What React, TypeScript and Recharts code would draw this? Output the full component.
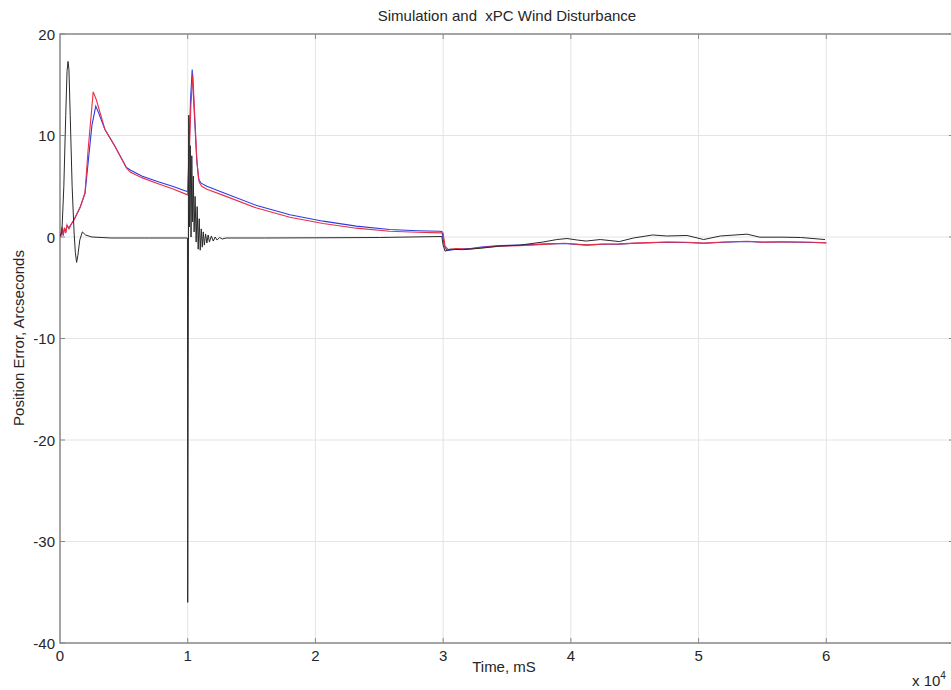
import React from 'react';
import { LineChart, Line, XAxis, YAxis, CartesianGrid, ReferenceArea } from 'recharts';

// time axis in units of 1e4 mS
const xTicks = [0, 1, 2, 3, 4, 5, 6];
const yTicks = [-40, -30, -20, -10, 0, 10, 20];

// simulation (blue)
const blueT = [0, 0.005, 0.015, 0.025, 0.035, 0.045, 0.055, 0.07, 0.09, 0.11, 0.157, 0.196, 0.22, 0.25, 0.28, 0.3, 0.352, 0.43, 0.52, 0.55, 0.64, 0.757, 0.88, 0.99, 1.0, 1.01, 1.022, 1.035, 1.05, 1.07, 1.085, 1.105, 1.15, 1.28, 1.54, 1.8, 2.06, 2.32, 2.58, 2.8, 2.97, 2.99, 3.01, 3.03, 3.1, 3.2, 3.3, 3.44, 3.6, 3.82, 3.95, 4.12, 4.25, 4.38, 4.5, 4.62, 4.75, 4.9, 5.04, 5.2, 5.38, 5.5, 5.65, 5.8, 5.9, 6.0];
const blueV = [0, 0.1, 0.8, 0.2, 0.9, 0.5, 1.1, 0.9, 1.3, 1.7, 2.9, 4.3, 7.3, 11.0, 12.9, 12.3, 10.6, 8.95, 6.85, 6.6, 6.0, 5.5, 5.0, 4.5, 4.45, 8.5, 13.5, 16.5, 12.6, 7.7, 5.7, 5.3, 5.0, 4.35, 3.1, 2.2, 1.56, 1.07, 0.74, 0.62, 0.57, 0.55, -0.9, -1.35, -1.2, -1.15, -1.0, -0.85, -0.8, -0.68, -0.64, -0.8, -0.72, -0.7, -0.62, -0.57, -0.52, -0.54, -0.62, -0.52, -0.44, -0.52, -0.5, -0.52, -0.54, -0.59];

// simulation (red)
const redT = [0, 0.005, 0.015, 0.025, 0.035, 0.045, 0.055, 0.07, 0.09, 0.11, 0.157, 0.196, 0.22, 0.26, 0.285, 0.352, 0.43, 0.52, 0.55, 0.64, 0.757, 0.88, 0.99, 1.0, 1.012, 1.025, 1.04, 1.055, 1.073, 1.09, 1.11, 1.15, 1.28, 1.54, 1.8, 2.06, 2.32, 2.58, 2.8, 2.98, 3.0, 3.015, 3.04, 3.1, 3.2, 3.3, 3.44, 3.6, 3.82, 3.95, 4.12, 4.25, 4.38, 4.5, 4.62, 4.75, 4.9, 5.04, 5.2, 5.38, 5.5, 5.65, 5.8, 5.9, 6.0];
const redV = [0, 0, 1.0, 0.1, 0.9, 0.4, 1.2, 0.8, 1.3, 1.7, 2.9, 4.4, 8.6, 14.3, 13.5, 10.6, 8.95, 6.8, 6.4, 5.85, 5.3, 4.75, 4.2, 4.15, 8, 13, 16.0, 12, 7.3, 5.4, 5.0, 4.7, 4.1, 2.85, 1.95, 1.33, 0.87, 0.57, 0.47, 0.41, 0.4, -0.9, -1.25, -1.15, -1.2, -1.05, -0.9, -0.85, -0.7, -0.62, -0.78, -0.7, -0.68, -0.6, -0.55, -0.5, -0.52, -0.6, -0.5, -0.42, -0.5, -0.48, -0.5, -0.52, -0.57];

// xPC (black)
const blackT = [0, 0.015, 0.03, 0.045, 0.055, 0.063, 0.07, 0.08, 0.095, 0.11, 0.12, 0.13, 0.14, 0.155, 0.175, 0.2, 0.25, 0.4, 0.7, 0.998, 1.0, 1.008, 1.014, 1.02, 1.026, 1.032, 1.038, 1.044, 1.05, 1.058, 1.066, 1.074, 1.082, 1.09, 1.098, 1.106, 1.114, 1.122, 1.13, 1.14, 1.15, 1.16, 1.17, 1.185, 1.2, 1.215, 1.23, 1.25, 1.27, 1.3, 1.6, 2.0, 2.5, 2.99, 3.0, 3.015, 3.05, 3.15, 3.3, 3.44, 3.6, 3.78, 3.89, 3.97, 4.05, 4.12, 4.23, 4.38, 4.49, 4.64, 4.75, 4.91, 5.04, 5.17, 5.38, 5.48, 5.66, 5.8, 5.99];
const blackV = [0, 0.5, 5, 12, 16.3, 17.3, 16.5, 12, 5, 0.5, -1.5, -2.5, -1.8, -0.3, 0.5, 0.2, 0, -0.1, -0.1, -0.1, -36, 12, 1, 9, 0, 8, 1.5, 6, 0.5, 4, -0.5, 3, -1.2, 1.8, -1.3, 0.8, -1.0, 0.5, -0.8, 0.3, -0.6, 0.2, -0.5, 0.1, -0.4, 0, -0.3, -0.05, -0.2, -0.1, -0.1, -0.08, -0.05, 0.05, -0.8, -1.4, -1.2, -1.25, -1.1, -0.9, -0.8, -0.5, -0.25, -0.15, -0.3, -0.4, -0.25, -0.45, -0.1, 0.2, 0.1, 0.15, -0.25, 0.1, 0.28, -0.02, -0.02, -0.05, -0.25];

const toRows = (t: number[], v: number[]) => t.map((x, i) => ({ t: x, v: v[i] }));
const blueData = toRows(blueT, blueV);
const redData = toRows(redT, redV);
const blackData = toRows(blackT, blackV);

const W = 960;
const H = 690;
const M = { top: 34, right: 6, bottom: 17, left: 0 };
const Y_AXIS_W = 60;
const X_AXIS_H = 30;
const PLOT_LEFT = M.left + Y_AXIS_W;
const PLOT_RIGHT = W - M.right;
const PLOT_TOP = M.top;
const PLOT_BOTTOM = H - M.bottom - X_AXIS_H;

const FONT = '"Liberation Sans", Arial, sans-serif';
const TXT = '#262626';
const FRAME = '#8a8a8a';

const XTick = (props: any) => {
  const { x, payload } = props;
  return (
    <g>
      <text x={x} y={PLOT_BOTTOM + 18} textAnchor="middle" fontSize={15} fontFamily={FONT} fill={TXT}>
        {payload.value}
      </text>
      {payload.value > 0 && (
        <g stroke={FRAME} strokeWidth={1}>
          <line x1={x} x2={x} y1={PLOT_BOTTOM} y2={PLOT_BOTTOM - 5} />
          <line x1={x} x2={x} y1={PLOT_TOP} y2={PLOT_TOP + 5} />
        </g>
      )}
    </g>
  );
};

const YTick = (props: any) => {
  const { y, payload } = props;
  return (
    <g>
      <text x={PLOT_LEFT - 5} y={y + 5.5} textAnchor="end" fontSize={15} fontFamily={FONT} fill={TXT}>
        {payload.value}
      </text>
      <g stroke={FRAME} strokeWidth={1}>
        <line x1={PLOT_LEFT} x2={PLOT_LEFT + 5} y1={y} y2={y} />
        <line x1={PLOT_RIGHT} x2={PLOT_RIGHT - 5} y1={y} y2={y} />
      </g>
    </g>
  );
};

export default function App() {
  return (
    <div style={{ position: 'absolute', left: 0, top: 0, width: 951, height: 690, overflow: 'hidden', background: '#fff' }}>
      <LineChart width={W} height={H} margin={M}>
        <CartesianGrid stroke="#e4e4e4" strokeWidth={1} />
        <XAxis
          type="number"
          dataKey="t"
          domain={[0, 7]}
          ticks={xTicks}
          allowDataOverflow
          height={X_AXIS_H}
          tickLine={false}
          axisLine={false}
          tickSize={0}
          tick={<XTick />}
          interval={0}
        />
        <YAxis
          type="number"
          dataKey="v"
          domain={[-40, 20]}
          ticks={yTicks}
          allowDataOverflow
          width={Y_AXIS_W}
          tickLine={false}
          axisLine={false}
          tickSize={0}
          tick={<YTick />}
          interval={0}
        />
        <ReferenceArea x1={0} x2={7} y1={-40} y2={20} fill="none" stroke={FRAME} strokeWidth={1.5} />
        <Line data={blueData} dataKey="v" type="linear" stroke="#2b3be0" strokeWidth={1.1} dot={false} activeDot={false} isAnimationActive={false} />
        <Line data={redData} dataKey="v" type="linear" stroke="#ea2f45" strokeWidth={1.1} dot={false} activeDot={false} isAnimationActive={false} />
        <Line data={blackData} dataKey="v" type="linear" stroke="#2a2a2a" strokeWidth={1} dot={false} activeDot={false} isAnimationActive={false} />
      </LineChart>
      <svg width={951} height={690} style={{ position: 'absolute', left: 0, top: 0, pointerEvents: 'none' }}>
        <g fontFamily={FONT} fontSize={15} fill={TXT}>
          <text x={507} y={21} textAnchor="middle" style={{ whiteSpace: 'pre' }}>
            Simulation and  xPC Wind Disturbance
          </text>
          <text x={504} y={672} textAnchor="middle">Time, mS</text>
          <text x={24} y={338} textAnchor="middle" transform="rotate(-90 24 338)">
            Position Error, Arcseconds
          </text>
          <text x={912} y={686}>
            x 10<tspan dy={-7} fontSize={10}>4</tspan>
          </text>
        </g>
      </svg>
    </div>
  );
}
